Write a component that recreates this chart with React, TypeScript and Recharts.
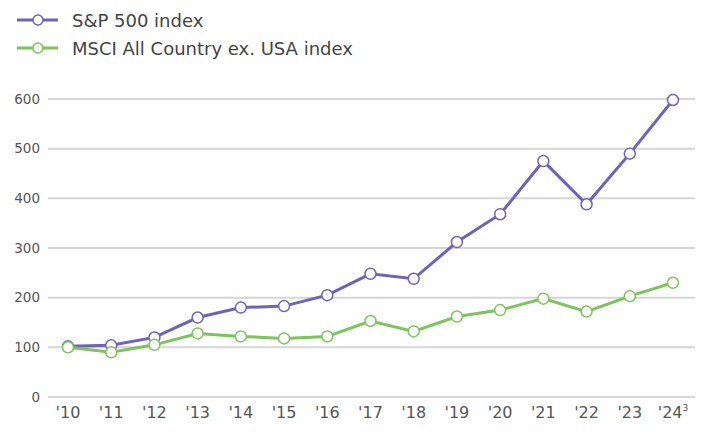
import { LineChart, Line, XAxis, YAxis, CartesianGrid, Legend } from "recharts";

const years = ["'10", "'11", "'12", "'13", "'14", "'15", "'16", "'17", "'18", "'19", "'20", "'21", "'22", "'23", "'24"];
const sp500 = [102, 104, 120, 160, 180, 183, 205, 248, 238, 312, 368, 475, 388, 490, 598];
const msciAcwiExUs = [100, 90, 105, 128, 122, 118, 122, 153, 132, 162, 175, 198, 172, 203, 230];
const yTicks = [0, 100, 200, 300, 400, 500, 600];

const PURPLE = "#6c64b8";
const GREEN = "#7dc45b";
const FONT = "'DejaVu Sans', sans-serif";

const seriesInfo = [
  { key: "sp", name: "S&P 500 index", color: PURPLE },
  { key: "msci", name: "MSCI All Country ex. USA index", color: GREEN },
];

const data = years.map((year, i) => ({
  year,
  sp: sp500[i],
  msci: msciAcwiExUs[i],
}));

const XTick = (props: any) => {
  const { x, y, payload } = props;
  const last = payload.value === "'24";
  return (
    <text x={x} y={y} dy={13} textAnchor="middle" fill="#555" fontSize={16} fontFamily={FONT}>
      {payload.value}
      {last && (
        <tspan fontSize={9} dy={-7}>
          3
        </tspan>
      )}
    </text>
  );
};

const LegendBox = () => (
  <div style={{ fontFamily: FONT, fontSize: 18, color: "#444" }}>
    {seriesInfo.map((s) => (
      <div key={s.key} style={{ display: "flex", alignItems: "center", height: 28 }}>
        <svg width={58} height={14} style={{ marginLeft: 14 }}>
          <line x1={3} y1={7} x2={44} y2={7} stroke={s.color} strokeWidth={3} />
          <circle cx={24} cy={7} r={5} fill="#fff" stroke={s.color} strokeWidth={1.5} />
        </svg>
        <span>{s.name}</span>
      </div>
    ))}
  </div>
);

export default function App() {
  return (
    <div style={{ position: "absolute", left: 0, top: 0 }}>
      <LineChart width={702} height={437} data={data} margin={{ top: 37, right: 7, bottom: 10, left: 8 }}>
        <Legend
          verticalAlign="top"
          align="left"
          content={<LegendBox />}
          wrapperStyle={{ top: 6, left: 0, height: 62 }}
        />
        <CartesianGrid vertical={false} stroke="#d6d6d6" strokeWidth={2} />
        <XAxis
          dataKey="year"
          axisLine={false}
          tickLine={false}
          tick={<XTick />}
          padding={{ left: 20, right: 22 }}
          height={30}
          interval={0}
        />
        <YAxis
          domain={[0, 600]}
          ticks={yTicks}
          axisLine={false}
          tickLine={false}
          width={40}
          tick={{ fill: "#555", fontSize: 13.5, fontFamily: FONT }}
        />
        {seriesInfo.map((s) => (
          <Line
            key={s.key}
            dataKey={s.key}
            name={s.name}
            stroke={s.color}
            strokeWidth={3}
            dot={{ r: 5.5, fill: "#fff", stroke: s.color, strokeWidth: 1.5 }}
            isAnimationActive={false}
          />
        ))}
      </LineChart>
    </div>
  );
}
